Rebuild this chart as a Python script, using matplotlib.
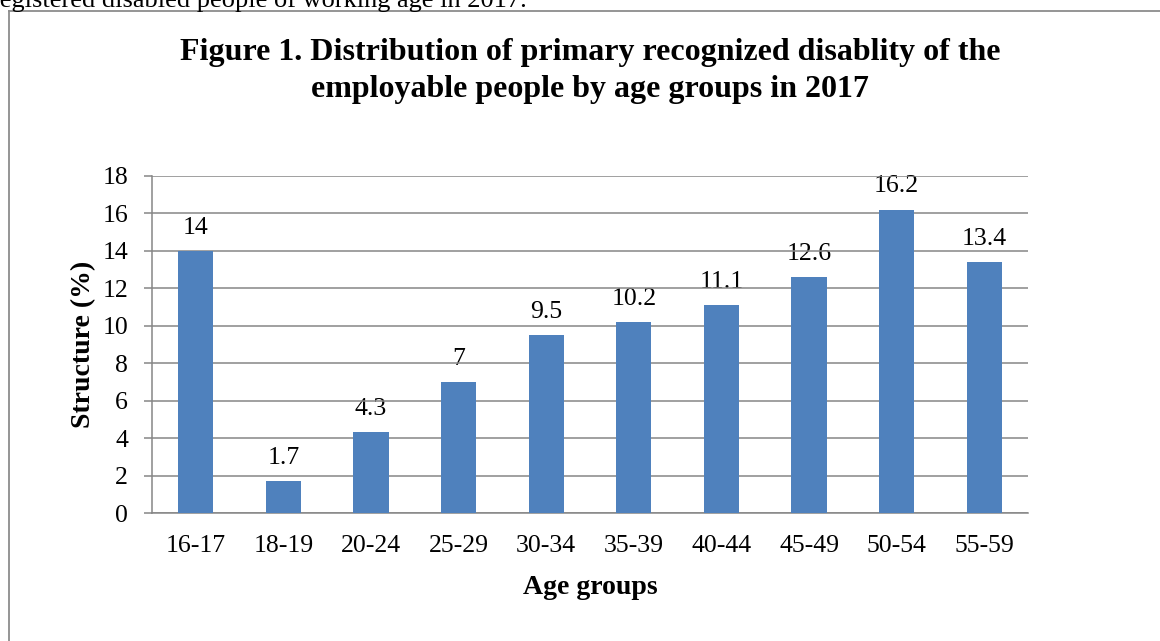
import numpy as np
import matplotlib
matplotlib.use("Agg")
import matplotlib.pyplot as plt
from matplotlib.lines import Line2D

# data
age_groups = ["16-17", "18-19", "20-24", "25-29", "30-34",
              "35-39", "40-44", "45-49", "50-54", "55-59"]
structure = [14, 1.7, 4.3, 7, 9.5, 10.2, 11.1, 12.6, 16.2, 13.4]
value_labels = ["14", "1.7", "4.3", "7", "9.5", "10.2", "11.1", "12.6", "16.2", "13.4"]
y_ticks = [0, 2, 4, 6, 8, 10, 12, 14, 16, 18]

title = ("Figure 1. Distribution of primary recognized disablity of the\n"
         "employable people by age groups in 2017")
top_line = "registered disabled people of working age in 2017."

plt.rcParams['font.family'] = ['Liberation Serif', 'DejaVu Serif']

W, H = 1160, 641
fig = plt.figure(figsize=(W / 100, H / 100), dpi=100)
ax = fig.add_axes([152 / W, 1 - 513 / H, (1028 - 152) / W, (513 - 176) / H])

grey = '#868686'
x = np.arange(len(age_groups))
ax.bar(x, structure, width=0.4, color='#4F81BD', zorder=3)

for i, (v, s) in enumerate(zip(structure, value_labels)):
    ax.annotate(s, (x[i], v), xytext=(0, 12.5), textcoords='offset points',
                ha='center', va='baseline', fontsize=18.5, zorder=1)

ax.set_xlim(-0.5, len(age_groups) - 0.5)
ax.set_ylim(0, 18)
ax.set_yticks(y_ticks)
ax.set_xticks(x)
ax.set_xticklabels(age_groups)
ax.yaxis.grid(True, color=grey, linewidth=1.1, zorder=2)
ax.set_axisbelow(False)
for sp in ['top', 'right']:
    ax.spines[sp].set_visible(False)
for sp in ['left', 'bottom']:
    ax.spines[sp].set_color(grey)
    ax.spines[sp].set_linewidth(1.1)
    ax.spines[sp].set_zorder(2)
ax.tick_params(axis='y', length=5.8, width=1.1, color=grey, pad=11.5, labelsize=18.5)
ax.tick_params(axis='x', length=0, pad=16, labelsize=18.5)

ax.set_ylabel("Structure (%)", fontsize=20, fontweight='bold')
ax.yaxis.set_label_coords(-0.064, 0.5)
ax.set_xlabel("Age groups", fontsize=20, fontweight='bold')
ax.xaxis.set_label_coords(0.5, -0.183)

fig.text(590 / W, 1 - 38 / H, title, ha='center', va='top', fontsize=23,
         fontweight='bold', linespacing=1.38)

# text of the page above the chart frame, cut off at the top
fig.text(-9 / W, 1 - 6.5 / H, top_line, ha='left', va='baseline', fontsize=19)

# chart frame (only left and top edges are inside the picture)
fig.add_artist(Line2D([8.5 / W, 8.5 / W], [0, 1 - 11 / H], transform=fig.transFigure,
                      color='#8c8c8c', linewidth=1.3))
fig.add_artist(Line2D([8.5 / W, 1], [1 - 11 / H, 1 - 11 / H], transform=fig.transFigure,
                      color='#8c8c8c', linewidth=1.3))

fig.savefig("out.png", dpi=100)
